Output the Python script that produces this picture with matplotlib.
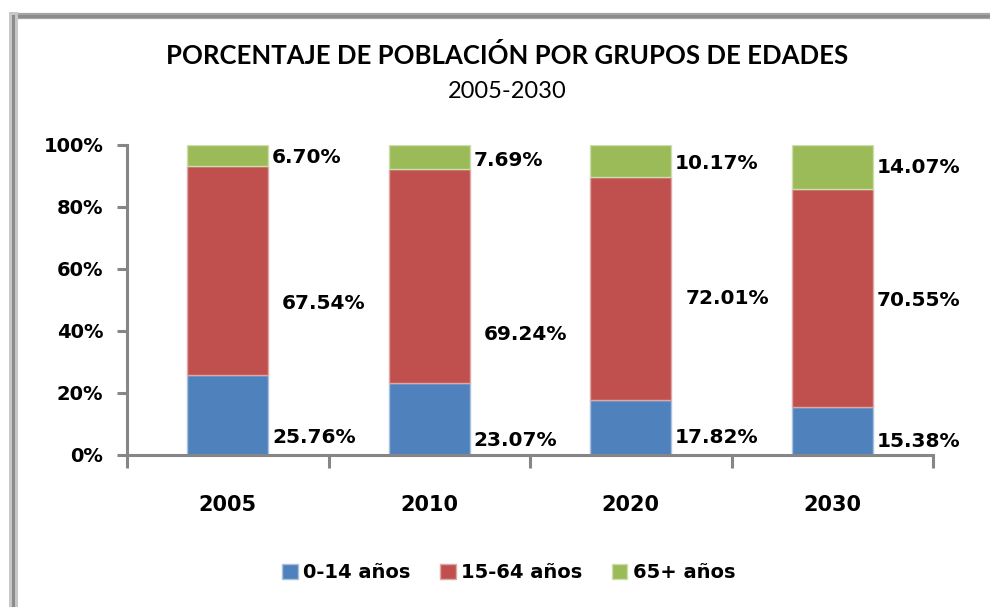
import matplotlib
matplotlib.use('Agg')
import matplotlib.pyplot as plt
from matplotlib.lines import Line2D
import numpy as np

# data
years = ['2005', '2010', '2020', '2030']
series_names = ['0-14 años', '15-64 años', '65+ años']
kids = [25.76, 23.07, 17.82, 15.38]
adults = [67.54, 69.24, 72.01, 70.55]
seniors = [6.70, 7.69, 10.17, 14.07]

# label placement (layout only)
kids_lab_y = [5.8, 4.8, 5.5, 4.2]
adults_lab_y = [49.0, 39.0, 50.6, 50.0]
seniors_lab_y = [96.0, 95.0, 94.0, 92.6]
adults_lab_dx = [0.27, 0.27, 0.27, 0.22]

colors = ['#4F81BD', '#C0504D', '#9BBB59']
edges = ['#A9C0DE', '#DDA8A6', '#CDDDAC']
axis_gray = '#868686'

fig = plt.figure(figsize=(9.9, 6.07), dpi=100)
ax = fig.add_axes([127/990, 1-455/607, (933-127)/990, (455-145)/607])

x = np.arange(len(years))
w = 0.4
bottom = np.zeros(len(years))
for vals, c, e, name in zip([kids, adults, seniors], colors, edges, series_names):
    ax.bar(x, vals, w, bottom=bottom, color=c, edgecolor=e, linewidth=1, label=name, zorder=2)
    bottom = bottom + np.array(vals)

lab_font = dict(fontsize=14.5, fontweight='bold', family='DejaVu Sans', va='center', ha='left')
for i in range(len(years)):
    ax.text(i + 0.22, kids_lab_y[i], f'{kids[i]:.2f}%', **lab_font)
    ax.text(i + adults_lab_dx[i], adults_lab_y[i], f'{adults[i]:.2f}%', **lab_font)
    ax.text(i + 0.22, seniors_lab_y[i], f'{seniors[i]:.2f}%', **lab_font)

ax.set_xlim(-0.5, 3.5)
ax.set_ylim(0, 100)
ax.set_yticks(np.arange(0, 101, 20))
ax.set_yticklabels([f'{v}%' for v in range(0, 101, 20)], fontsize=14, fontweight='bold')
ax.set_xticks(x)
ax.set_xticklabels(years, fontsize=15, fontweight='bold')
ax.set_xticks(np.arange(-0.5, 3.6, 1), minor=True)
ax.tick_params(axis='x', which='major', length=0, pad=29)
ax.tick_params(axis='x', which='minor', length=9, width=2.2, color=axis_gray, direction='out')
ax.tick_params(axis='y', length=7, width=2.2, color=axis_gray, direction='out', pad=10)
for s in ['top', 'right']:
    ax.spines[s].set_visible(False)
for s in ['left', 'bottom']:
    ax.spines[s].set_color(axis_gray)
    ax.spines[s].set_linewidth(2.2)

fig.text(0.512, 1-55/607, 'PORCENTAJE DE POBLACIÓN POR GRUPOS DE EDADES',
         ha='center', va='center', fontsize=18.5, fontweight='bold', family='Lato')
fig.text(0.512, 1-92/607, '2005-2030', ha='center', va='center', fontsize=17, family='Lato')

fig.legend(loc='center', bbox_to_anchor=(0.514, 1-573/607), ncol=3, frameon=False,
           prop={'family': 'DejaVu Sans', 'size': 14, 'weight': 'bold'},
           handlelength=0.8, handleheight=0.8, handletextpad=0.3, columnspacing=1.5)

# outer chart frame
top_y = 1 - 16/607
left_x = 12.5/990
fig.add_artist(Line2D([left_x, 1], [top_y, top_y], transform=fig.transFigure, color='#a6a6a6', lw=4.5))
fig.add_artist(Line2D([left_x, 1], [top_y, top_y], transform=fig.transFigure, color='#8c8c8c', lw=2.2))
fig.add_artist(Line2D([left_x, left_x], [0, top_y], transform=fig.transFigure, color='#c8c8c8', lw=6.5))
fig.add_artist(Line2D([left_x, left_x], [0, top_y], transform=fig.transFigure, color='#8c8c8c', lw=2.2))

fig.savefig('out.png', dpi=100)
